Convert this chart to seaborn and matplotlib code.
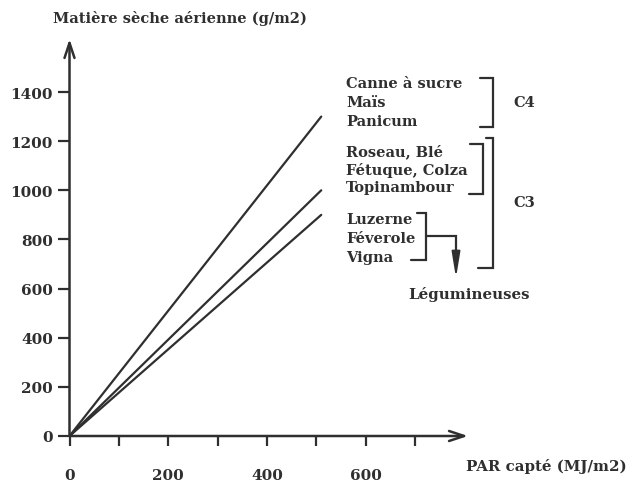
import matplotlib
matplotlib.use("Agg")
import matplotlib.pyplot as plt
from matplotlib.transforms import Affine2D
import numpy as np
import pandas as pd
import seaborn as sns

# Intercepted PAR (MJ/m2) at the start and end of each line
par = [0, 510]
# Above-ground dry matter (g/m2) reached by each group
dm_c4 = [0, 1300]
dm_c3 = [0, 1000]
dm_legumes = [0, 900]

group_names = ["C4", "C3", "Légumineuses"]

c4_species = ["Canne à sucre", "Maïs", "Panicum"]
c3_species = ["Roseau, Blé", "Fétuque, Colza", "Topinambour"]
legume_species = ["Luzerne", "Féverole", "Vigna"]

y_ticks = [0, 200, 400, 600, 800, 1000, 1200, 1400]
x_ticks = [0, 100, 200, 300, 400, 500, 600, 700]
x_tick_labels = ["0", "", "200", "", "400", "", "600", ""]

ink = "#2f2f2f"

sns.set_theme(style="white")
plt.rcParams["font.family"] = ["DejaVu Serif"]
plt.rcParams["font.weight"] = "bold"

W, H = 637, 489
fig = plt.figure(figsize=(W / 100, H / 100), dpi=100)
fig.patch.set_facecolor("white")

# axes placed so the origin sits at (69.5, 437) px
x_px_per_unit = 0.4936
y_px_per_unit = 0.2457
left_px, right_px = 69.5, 468
bottom_px = 437
top_px = 40
ax = fig.add_axes([left_px / W, (H - bottom_px) / H,
                   (right_px - left_px) / W, (bottom_px - top_px) / H])
ax.set_facecolor("white")
ax.set_xlim(0, (right_px - left_px) / x_px_per_unit)
ax.set_ylim(0, (bottom_px - top_px) / y_px_per_unit)

df = pd.DataFrame({
    "par": par * 3,
    "dm": dm_c4 + dm_c3 + dm_legumes,
    "group": [g for g in group_names for _ in par],
})
sns.lineplot(data=df, x="par", y="dm", hue="group",
             palette=[ink] * 3, legend=False, linewidth=1.6, ax=ax)
ax.set_xlabel("")
ax.set_ylabel("")

for s in ax.spines.values():
    s.set_visible(False)

# axis lines with open arrow heads
arrow_kw = dict(arrowstyle="->,head_length=0.9,head_width=0.3",
                color=ink, lw=1.8, shrinkA=0, shrinkB=0)
xmax = ax.get_xlim()[1]
ymax = ax.get_ylim()[1]
ax.annotate("", xy=(xmax, 0), xytext=(0, 0), arrowprops=arrow_kw,
            annotation_clip=False)
ax.annotate("", xy=(0, ymax), xytext=(0, 0), arrowprops=arrow_kw,
            annotation_clip=False)

ax.set_yticks(y_ticks)
ax.set_yticklabels([str(v) for v in y_ticks])
ax.set_xticks(x_ticks)
ax.set_xticklabels(x_tick_labels)
ax.tick_params(axis="y", direction="out", length=9, width=1.6,
               color=ink, labelcolor=ink, labelsize=11, pad=3, left=True)
ax.tick_params(axis="x", direction="out", length=7, width=1.6,
               color=ink, labelcolor=ink, labelsize=11, pad=16, bottom=True)
for lab in ax.get_xticklabels() + ax.get_yticklabels():
    lab.set_fontweight("bold")

# annotations placed in figure pixel coordinates (origin top-left)
px = Affine2D().scale(1 / W, -1 / H).translate(0, 1) + fig.transFigure

txt_kw = dict(transform=px, color=ink, fontsize=10.5, fontweight="bold",
              va="center", ha="left")

fig.text(180, 18, "Matière sèche aérienne (g/m2)", transform=px, color=ink,
         fontsize=10.5, fontweight="bold", ha="center", va="center")
fig.text(546, 467, "PAR capté (MJ/m2)", transform=px, color=ink,
         fontsize=10.8, fontweight="bold", ha="center", va="center")

for name, y in zip(c4_species, [84, 103, 122]):
    fig.text(346, y, name, **txt_kw)
for name, y in zip(c3_species, [152, 170, 188]):
    fig.text(346, y, name, **txt_kw)
for name, y in zip(legume_species, [220, 239, 258]):
    fig.text(346, y, name, **txt_kw)

fig.text(513, 103, group_names[0], **txt_kw)
fig.text(513, 203, group_names[1], **txt_kw)
fig.text(469, 294, group_names[2], transform=px, color=ink, fontsize=10.8,
         fontweight="bold", ha="center", va="center")


def bracket(x, y0, y1, x_top, x_bot):
    fig.add_artist(plt.Line2D([x_top, x, x, x_bot], [y0, y0, y1, y1],
                              transform=px, color=ink, lw=1.6,
                              solid_joinstyle="miter"))


bracket(493, 79, 128, 480, 480)
bracket(483, 145, 195, 470, 469)
bracket(493, 139, 269, 486, 478)
bracket(426, 214, 261, 417, 411)

# branch from the legume bracket down to its group label
fig.add_artist(plt.Line2D([426, 456, 456], [237, 237, 266], transform=px,
                          color=ink, lw=1.6, solid_joinstyle="miter"))
fig.add_artist(matplotlib.patches.FancyArrowPatch(
    (456, 258), (456, 279), transform=px,
    arrowstyle="-|>,head_length=1.1,head_width=0.18",
    mutation_scale=14, color=ink, lw=1.4, shrinkA=0, shrinkB=0))

fig.savefig("out.png", dpi=100, facecolor="white")
